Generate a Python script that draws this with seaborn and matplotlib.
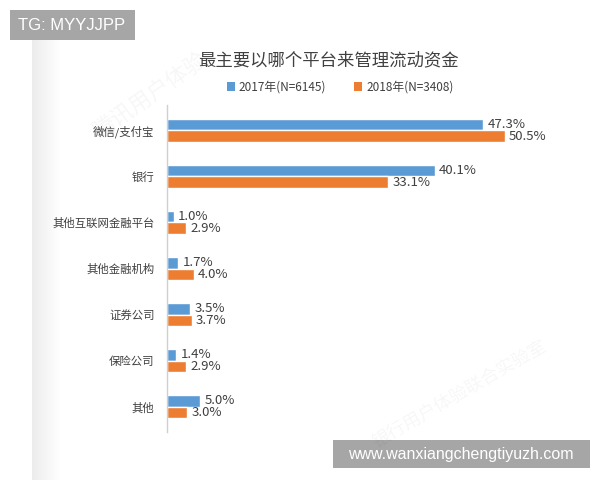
import numpy as np
import pandas as pd
import matplotlib as mpl
mpl.use("Agg")
import matplotlib.pyplot as plt
import seaborn as sns
from matplotlib.patches import Patch, Rectangle
from matplotlib.colors import LinearSegmentedColormap

categories = ['微信/支付宝', '银行', '其他互联网金融平台', '其他金融机构', '证券公司', '保险公司', '其他']
v2017 = [47.3, 40.1, 1.0, 1.7, 3.5, 1.4, 5.0]
v2018 = [50.5, 33.1, 2.9, 4.0, 3.7, 2.9, 3.0]
series = ['2017年(N=6145)', '2018年(N=3408)']
colors = ['#5b9bd5', '#ed7d31']

sns.set_style('white')
plt.rcParams['font.family'] = ['Noto Sans CJK SC', 'DejaVu Sans']

df = pd.DataFrame({
    'cat': categories * 2,
    'val': v2017 + v2018,
    'year': [series[0]] * len(categories) + [series[1]] * len(categories),
})

W, H = 600, 480
fig = plt.figure(figsize=(6, 4.8), dpi=100)
fig.patch.set_facecolor('white')

# faint shadow band on the left of the card
shade = fig.add_axes([32 / W, 0, 28 / W, 440 / H])
fade = LinearSegmentedColormap.from_list('fade', ['#ececec', '#ffffff'])
shade.imshow(np.linspace(0, 1, 60)[None, :], aspect='auto', cmap=fade)
shade.axis('off')

# axes: left spine at x=167px, 1% ~ 6.68px
ax = fig.add_axes([167 / W, 1 - 432 / H, 401 / W, 327 / H])
sns.barplot(data=df, y='cat', x='val', hue='year', palette=colors, orient='h',
            width=0.5, gap=0, saturation=1, ax=ax, legend=False)
ax.set_xlim(0, 60)
ax.set_ylim(6.55, -0.55)
ax.set_xlabel('')
ax.set_ylabel('')
ax.set_xticks([])
ax.tick_params(axis='y', length=0, pad=9, labelsize=8.2, labelcolor='#404040')
for s in ['top', 'right', 'bottom']:
    ax.spines[s].set_visible(False)
ax.spines['left'].set_color('#d0d0d0')
ax.spines['left'].set_linewidth(1)

for cont in ax.containers:
    ax.bar_label(cont, labels=[f'{v:.1f}%' for v in cont.datavalues],
                 padding=3, fontsize=9.5, color='#404040')

# title and legend
fig.text(328 / W, 1 - 60 / H, '最主要以哪个平台来管理流动资金', ha='center', va='center',
         fontsize=12.5, color='#404040')
handles = [Patch(facecolor=c, edgecolor='none') for c in colors]
fig.legend(handles, series, loc='center', bbox_to_anchor=(340 / W, 1 - 87 / H), ncol=2,
           frameon=False, fontsize=8.5, handlelength=0.7, handleheight=0.7, handletextpad=0.3,
           columnspacing=2.4, labelcolor='#404040')

# faint watermarks
fig.text(150 / W, 1 - 95 / H, '腾讯用户体验', rotation=35, fontsize=16, color='#000000',
         alpha=0.035, ha='center', va='center')
fig.text(460 / W, 1 - 395 / H, '银行用户体验联合实验室', rotation=30, fontsize=13, color='#000000',
         alpha=0.035, ha='center', va='center')

# overlay boxes
fig.add_artist(Rectangle((10 / W, 1 - 40 / H), 125 / W, 30 / H, transform=fig.transFigure,
                         facecolor='#a6a6a6', edgecolor='none'))
fig.text(72 / W, 1 - 25 / H, 'TG: MYYJJPP', ha='center', va='center', fontsize=12,
         color='white', family='Liberation Sans')
fig.add_artist(Rectangle((333 / W, 1 - 468 / H), 257 / W, 28 / H, transform=fig.transFigure,
                         facecolor='#a6a6a6', edgecolor='none'))
fig.text(461 / W, 1 - 454 / H, 'www.wanxiangchengtiyuzh.com', ha='center', va='center',
         fontsize=11.5, color='white', family='Liberation Sans')

fig.savefig('out.png', dpi=100, facecolor='white')
